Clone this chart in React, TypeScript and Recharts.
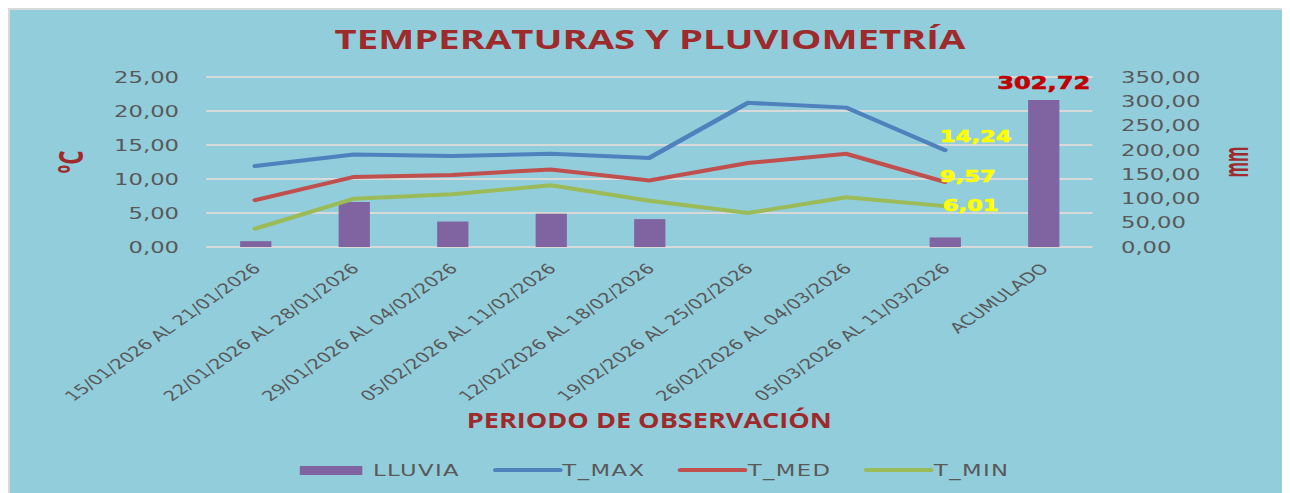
import React from 'react';
import { ComposedChart, Bar, Line, XAxis, YAxis, CartesianGrid, Legend, LabelList } from 'recharts';

const categories = [
  '15/01/2026 AL 21/01/2026',
  '22/01/2026 AL 28/01/2026',
  '29/01/2026 AL 04/02/2026',
  '05/02/2026 AL 11/02/2026',
  '12/02/2026 AL 18/02/2026',
  '19/02/2026 AL 25/02/2026',
  '26/02/2026 AL 04/03/2026',
  '05/03/2026 AL 11/03/2026',
  'ACUMULADO',
];
const lluvia = [12, 92.8, 52.4, 68.5, 57.4, 0, 0, 19.62, 302.72];
const tMax = [11.9, 13.6, 13.4, 13.7, 13.1, 21.2, 20.5, 14.24, null];
const tMed = [6.9, 10.3, 10.6, 11.4, 9.8, 12.35, 13.7, 9.57, null];
const tMin = [2.7, 7.1, 7.75, 9.07, 6.8, 5.0, 7.3, 6.01, null];
const tempTicks = [0, 5, 10, 15, 20, 25];
const rainTicks = [0, 50, 100, 150, 200, 250, 300, 350];

const series = [
  { key: 'LLUVIA', color: '#8064A2', type: 'bar' },
  { key: 'T_MAX', color: '#4F81BD', type: 'line' },
  { key: 'T_MED', color: '#C0504D', type: 'line' },
  { key: 'T_MIN', color: '#9BBB59', type: 'line' },
];

const data = categories.map((name, i) => ({
  name,
  LLUVIA: lluvia[i],
  T_MAX: tMax[i],
  T_MED: tMed[i],
  T_MIN: tMin[i],
}));

// the picture is stretched sideways, so draw narrow and scale the whole thing
const W = 901;
const H = 483;
const STRETCH = 1280 / W;
const TITLE_RED = '#9E2A2B';
const GREY = '#595959';
const LAST_WEEK = categories.length - 2;
const TOTAL = lluvia[lluvia.length - 1];

const fmt = (v: number) => v.toFixed(2).replace('.', ',');

const CategoryTick = ({ x, y, payload }: any) => (
  <g transform={`translate(${x + 1},${y + 19})`}>
    <text textAnchor="end" dominantBaseline="central" transform="rotate(-45)"
      fontFamily="DejaVu Sans" fontSize={14} fill={GREY}>
      {payload.value}
    </text>
  </g>
);

const YTitle = ({ viewBox, text, offsetX, len }: any) => {
  const cx = viewBox.x + offsetX;
  const cy = viewBox.y + viewBox.height / 2;
  return (
    <text x={cx} y={cy} transform={`rotate(-90 ${cx} ${cy})`} textAnchor="middle" dominantBaseline="central"
      fontFamily="Open Sans" fontWeight="bold" fontSize={24} fill={TITLE_RED}
      textLength={len} lengthAdjust="spacingAndGlyphs">
      {text}
    </text>
  );
};

const XTitle = ({ viewBox }: any) => (
  <text x={viewBox.x + viewBox.width / 2} y={viewBox.y + 181} textAnchor="middle"
    fontFamily="Open Sans" fontWeight="bold" fontSize={21} fill={TITLE_RED}
    textLength={257} lengthAdjust="spacingAndGlyphs">
    PERIODO DE OBSERVACIÓN
  </text>
);

const lastPointLabel = (dx: number, dy: number) => (props: any) => {
  const { x, y, value, index } = props;
  if (index !== LAST_WEEK || value == null) return null;
  return (
    <text x={x + dx} y={y + dy} dominantBaseline="central" fontFamily="DejaVu Sans" fontWeight="bold"
      fontSize={16} fill="#FFFF00" stroke="#FFFF00" strokeWidth={0.6}>
      {fmt(value)}
    </text>
  );
};

const totalLabel = (props: any) => {
  const { x, y, width, value } = props;
  if (Number(value) !== TOTAL) return null;
  return (
    <text x={Number(x) + Number(width) / 2} y={Number(y) - 17} textAnchor="middle" dominantBaseline="central"
      fontFamily="DejaVu Sans" fontWeight="bold" fontSize={17} fill="#C00000" stroke="#C00000" strokeWidth={0.6}>
      {fmt(Number(value))}
    </text>
  );
};

const LegendRow = () => (
  <div style={{ display: 'flex', justifyContent: 'center', alignItems: 'center', height: 20, paddingLeft: 7,
    fontFamily: 'DejaVu Sans', fontSize: 16, color: GREY }}>
    {series.map((s, i) => (
      <div key={s.key} style={{ display: 'flex', alignItems: 'center', marginLeft: i ? 23 : 0 }}>
        {s.type === 'bar'
          ? <span style={{ width: 44, height: 9, background: s.color, marginRight: 7 }} />
          : <span style={{ width: 49, height: 4, borderRadius: 2, background: s.color }} />}
        <span style={{ letterSpacing: 1 }}>{s.key}</span>
      </div>
    ))}
  </div>
);

export default function App() {
  return (
    <div style={{ width: 1280, height: H, borderTop: '2px solid #D9D9D9', borderLeft: '2px solid #D9D9D9',
      background: '#92CDDC', overflow: 'hidden', position: 'relative' }}>
      <style>{'body{overflow:hidden}'}</style>
      <div style={{ position: 'absolute', left: 0, top: 0, width: W, height: H,
        transform: `scaleX(${STRETCH})`, transformOrigin: '0 0' }}>
        <svg width={W} height={60} style={{ position: 'absolute', left: 0, top: 0 }}>
          <text x={W / 2} y={39} textAnchor="middle" fontFamily="Open Sans" fontWeight="bold" fontSize={26}
            fill={TITLE_RED} textLength={444} lengthAdjust="spacingAndGlyphs">
            TEMPERATURAS Y PLUVIOMETRÍA
          </text>
        </svg>
        <ComposedChart width={W} height={H} data={data} margin={{ top: 67, right: 0, bottom: 13, left: 0 }}>
          <CartesianGrid vertical={false} stroke="#D9D9D9" strokeWidth={2} />
          <XAxis dataKey="name" interval={0} height={213} tickSize={0} tickMargin={0} tickLine={false}
            axisLine={false} tick={<CategoryTick />} label={<XTitle />} />
          <YAxis domain={[0, 25]} ticks={tempTicks} interval={0} width={138} tickSize={0} tickMargin={19}
            tickLine={false} axisLine={false} tickFormatter={fmt}
            tick={{ fontFamily: 'DejaVu Sans', fontSize: 16, fill: GREY }}
            label={<YTitle text="ºC" offsetX={42} len={23} />} />
          <YAxis yAxisId="right" orientation="right" domain={[0, 350]} ticks={rainTicks} interval={0} width={139}
            tickSize={0} tickMargin={20} tickLine={false} axisLine={false} tickFormatter={fmt}
            tick={{ fontFamily: 'DejaVu Sans', fontSize: 16, fill: GREY }}
            label={<YTitle text="mm" offsetX={100} len={31} />} />
          <Legend verticalAlign="bottom" content={() => <LegendRow />} />
          <Bar yAxisId="right" dataKey="LLUVIA" fill="#8064A2" barSize={22} isAnimationActive={false}>
            <LabelList dataKey="LLUVIA" content={totalLabel} />
          </Bar>
          <Line dataKey="T_MAX" stroke="#4F81BD" strokeWidth={4} strokeLinecap="round" dot={false}
            isAnimationActive={false}>
            <LabelList dataKey="T_MAX" content={lastPointLabel(-3.5, -13)} />
          </Line>
          <Line dataKey="T_MED" stroke="#C0504D" strokeWidth={4} strokeLinecap="round" dot={false}
            isAnimationActive={false}>
            <LabelList dataKey="T_MED" content={lastPointLabel(-3.5, -5)} />
          </Line>
          <Line dataKey="T_MIN" stroke="#9BBB59" strokeWidth={4} strokeLinecap="round" dot={false}
            isAnimationActive={false}>
            <LabelList dataKey="T_MIN" content={lastPointLabel(-1.5, 0)} />
          </Line>
        </ComposedChart>
      </div>
    </div>
  );
}
